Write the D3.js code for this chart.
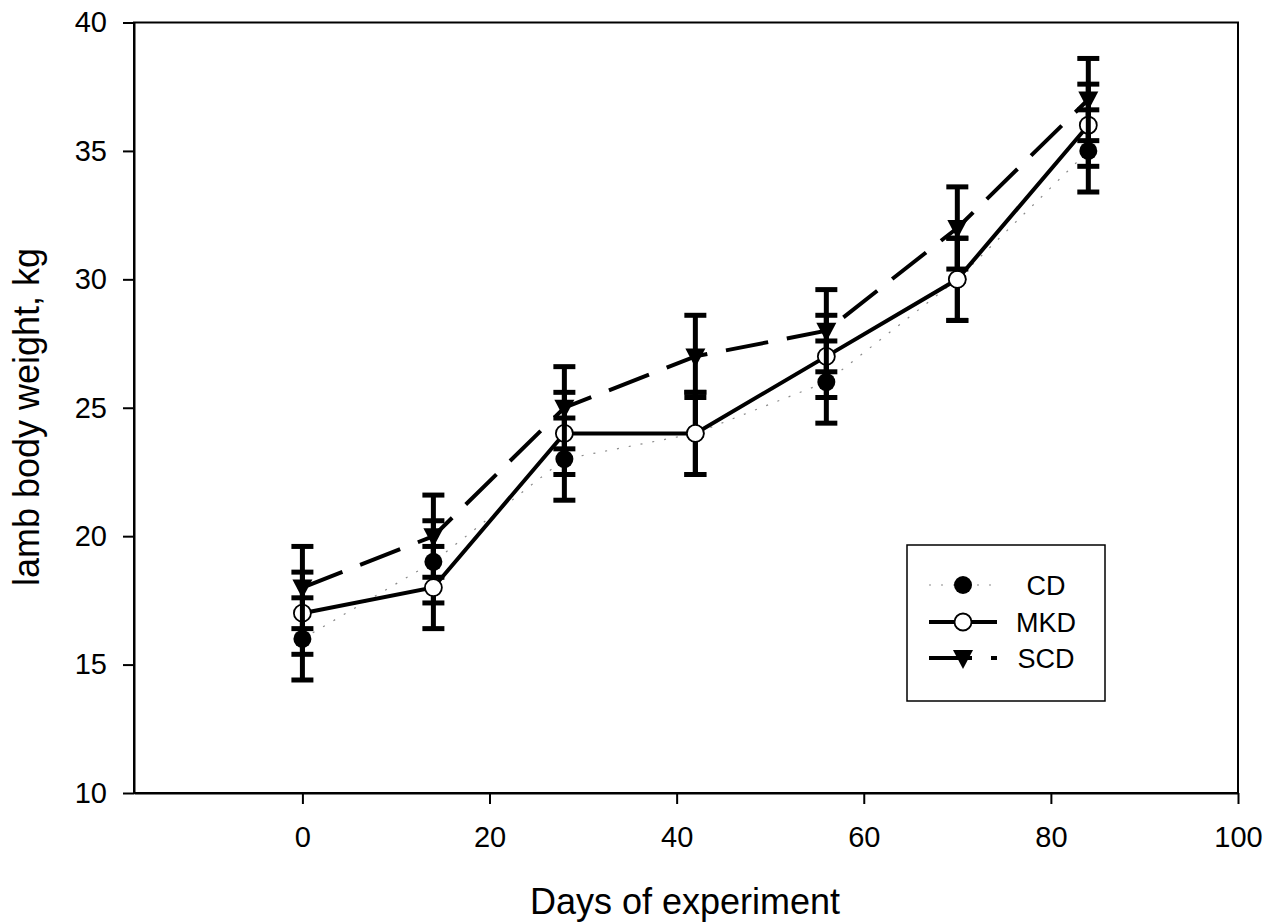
<!DOCTYPE html>
<html>
<head>
<meta charset="utf-8">
<script src="https://cdn.jsdelivr.net/npm/d3@7"></script>
<style>
  body { margin: 0; background: #fff; }
  svg { display: block; font-family: "Liberation Sans", Arial, sans-serif; }
</style>
</head>
<body>
<div id="chart"></div>
<script>
// data
const days = [0, 14, 28, 42, 56, 70, 84];
const cdMean = [16, 19, 23, 24, 26, 30, 35];
const mkdMean = [17, 18, 24, 24, 27, 30, 36];
const scdMean = [18, 20, 25, 27, 28, 32, 37];
const cdErr = [1.6, 1.6, 1.6, 1.6, 1.6, 1.6, 1.6];
const mkdErr = [1.6, 1.6, 1.6, 1.6, 1.6, 1.6, 1.6];
const scdErr = [1.6, 1.6, 1.6, 1.6, 1.6, 1.6, 1.6];
const xTicks = [0, 20, 40, 60, 80, 100];
const yTicks = [10, 15, 20, 25, 30, 35, 40];

const W = 1281, H = 923;
const plotLeft = 134, plotRight = 1238, plotTop = 22.5, plotBottom = 793;

const svg = d3.select('#chart').append('svg')
  .attr('width', W)
  .attr('height', H);

const x = d3.scaleLinear().domain([-18, 100]).range([plotLeft, plotRight]);
const y = d3.scaleLinear().domain([10, 40]).range([plotBottom, plotTop]);

// frame
svg.append('rect')
  .attr('x', plotLeft).attr('y', plotTop)
  .attr('width', plotRight - plotLeft).attr('height', plotBottom - plotTop)
  .attr('fill', 'none').attr('stroke', '#000').attr('stroke-width', 2);

// axes
const xAxis = d3.axisBottom(x).tickValues(xTicks).tickSize(11).tickSizeOuter(0).tickPadding(22);
const yAxis = d3.axisLeft(y).tickValues(yTicks).tickSize(11).tickSizeOuter(0).tickPadding(16);

const gx = svg.append('g').attr('transform', `translate(0,${plotBottom})`).call(xAxis);
const gy = svg.append('g').attr('transform', `translate(${plotLeft},0)`).call(yAxis);
[gx, gy].forEach((g) => {
  g.select('.domain').attr('stroke-width', 2);
  g.selectAll('.tick line').attr('stroke-width', 2);
  g.selectAll('.tick text').attr('font-size', 29).attr('fill', '#000')
    .style('font-family', '"Liberation Sans", Arial, sans-serif');
});

// axis titles
svg.append('text')
  .attr('x', 685).attr('y', 914)
  .attr('text-anchor', 'middle')
  .attr('font-size', 36)
  .text('Days of experiment');

svg.append('text')
  .attr('transform', 'translate(39,417) rotate(-90)')
  .attr('text-anchor', 'middle')
  .attr('font-size', 36)
  .text('lamb body weight, kg');

// series
const series = [
  { name: 'CD', mean: cdMean, err: cdErr, stroke: '#8a8a8a', width: 1.2, dash: '2,10', marker: 'filled' },
  { name: 'MKD', mean: mkdMean, err: mkdErr, stroke: '#000', width: 4, dash: null, marker: 'open' },
  { name: 'SCD', mean: scdMean, err: scdErr, stroke: '#000', width: 4, dash: '43,19', marker: 'tri' }
];

const triPath = 'M-10,-8L10,-8L0,11Z';

function drawMarker(g, type, cx, cy) {
  if (type === 'filled') {
    g.append('circle').attr('cx', cx).attr('cy', cy).attr('r', 9).attr('fill', '#000');
  } else if (type === 'open') {
    g.append('circle').attr('cx', cx).attr('cy', cy).attr('r', 8.5)
      .attr('fill', '#fff').attr('stroke', '#000').attr('stroke-width', 1.8);
  } else {
    g.append('path').attr('d', triPath).attr('transform', `translate(${cx},${cy})`).attr('fill', '#000');
  }
}

const line = d3.line().x((d) => x(d[0])).y((d) => y(d[1]));

series.forEach((s) => {
  const g = svg.append('g');
  const pts = days.map((d, i) => [d, s.mean[i]]);

  g.append('path')
    .attr('d', line(pts))
    .attr('fill', 'none')
    .attr('stroke', s.stroke)
    .attr('stroke-width', s.width)
    .attr('stroke-dasharray', s.dash);

  // error bars
  days.forEach((d, i) => {
    const cx = x(d);
    const hi = y(s.mean[i] + s.err[i]);
    const lo = y(s.mean[i] - s.err[i]);
    g.append('line').attr('x1', cx).attr('x2', cx).attr('y1', hi).attr('y2', lo)
      .attr('stroke', '#000').attr('stroke-width', 5);
    [hi, lo].forEach((yy) => {
      g.append('line').attr('x1', cx - 11).attr('x2', cx + 11).attr('y1', yy).attr('y2', yy)
        .attr('stroke', '#000').attr('stroke-width', 5);
    });
  });

  days.forEach((d, i) => drawMarker(g, s.marker, x(d), y(s.mean[i])));
});

// legend
const lg = svg.append('g');
lg.append('rect')
  .attr('x', 907).attr('y', 545).attr('width', 198).attr('height', 156)
  .attr('fill', '#fff').attr('stroke', '#000').attr('stroke-width', 1.5);

const legendY = [585, 622, 658];
series.forEach((s, i) => {
  const ly = legendY[i];
  lg.append('line')
    .attr('x1', 929).attr('x2', 997).attr('y1', ly).attr('y2', ly)
    .attr('stroke', s.stroke).attr('stroke-width', s.width)
    .attr('stroke-dasharray', s.dash);
  drawMarker(lg, s.marker, 963, ly);
  lg.append('text')
    .attr('x', 1046).attr('y', ly)
    .attr('dy', '0.36em')
    .attr('text-anchor', 'middle')
    .attr('font-size', 27)
    .text(s.name);
});
</script>
</body>
</html>
